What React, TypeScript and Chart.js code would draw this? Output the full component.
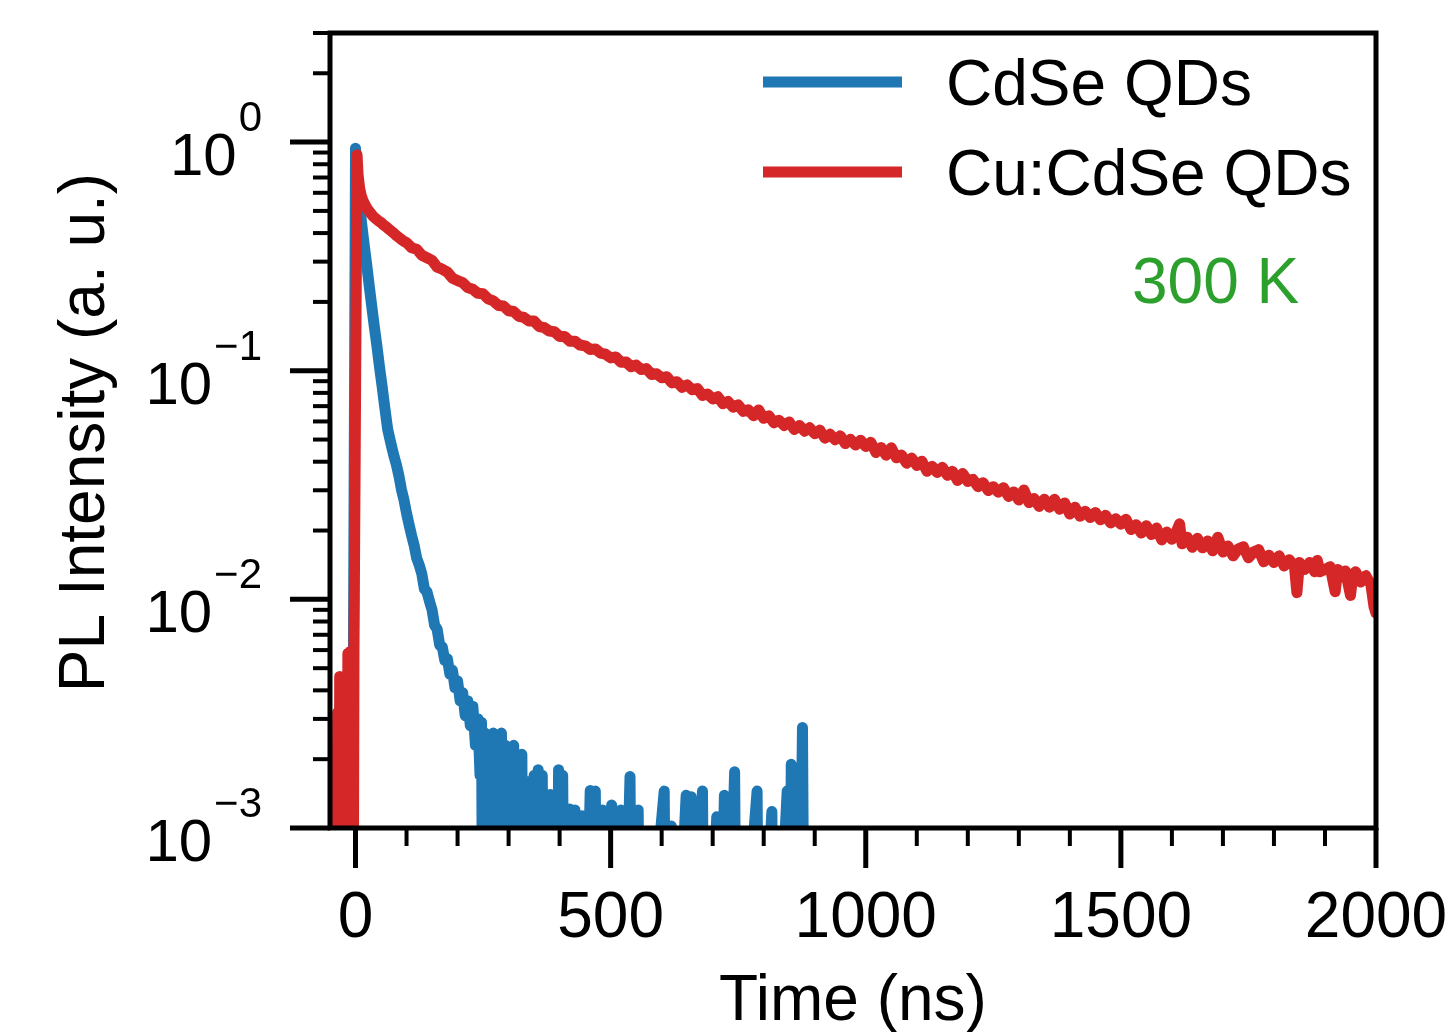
import { useEffect, useRef } from 'react';
import { Chart, registerables } from 'chart.js';

Chart.register(...registerables);

const FONT = '"Liberation Sans", Arial, Helvetica, sans-serif';

// ---- data ----
const blueTimes = [
  -38, -30, -28, -18, -16, -8, -6, -4, 0, 3, 7, 12, 17, 22, 27, 32, 37, 42, 47, 52, 57, 63, 68, 72, 76, 80,
  85, 90, 95, 100, 105, 110, 115, 120, 125, 130, 135, 140, 145, 150, 155, 160, 165, 170, 175, 180, 185, 190,
  195, 200, 205, 210, 215, 220, 225, 230, 235, 240, 244, 247, 250,
  254, 258, 262, 266, 270, 274, 278, 282, 286, 290, 294, 298, 302, 306, 310, 314, 318, 322, 326, 330, 334,
  338, 342, 346, 350, 354, 358, 362, 366, 370, 374, 378, 382, 386, 390, 394, 398, 402, 406, 410,
  420, 424, 430, 434, 444, 448, 460, 464, 470, 474, 484, 488, 502, 506, 520, 524, 538, 542, 554, 558,
  605, 609, 619, 623, 648, 652, 658, 662, 680, 684, 708, 712, 723, 727, 743, 747, 787, 791, 816, 820,
  846, 850, 854, 858, 864, 868, 876, 880,
];
const blueValues = [
  0.0001, 0.003, 0.0001, 0.004, 0.0001, 0.005, 0.0001, 0.0062, 0.94, 0.72, 0.56, 0.44, 0.355, 0.29, 0.234,
  0.19, 0.155, 0.128, 0.104, 0.086, 0.07, 0.0555, 0.0495, 0.0454, 0.0418, 0.0389,
  0.0347, 0.0302, 0.0272, 0.0238, 0.0212, 0.019, 0.0172, 0.0151, 0.0141, 0.0129, 0.0111, 0.0108, 0.0098,
  0.009, 0.0077, 0.0074, 0.0063, 0.0062, 0.0054, 0.0055, 0.0047, 0.0049,
  0.0041, 0.0044, 0.0036, 0.0039, 0.0031, 0.0036, 0.0028, 0.0034, 0.0023, 0.003, 0.0017, 0.0029, 0.0001,
  0.0026, 0.0001, 0.0025, 0.0001, 0.0026, 0.0001, 0.0025, 0.0001, 0.0026, 0.0001, 0.0023, 0.0001, 0.0022,
  0.0001, 0.0023, 0.0001, 0.002, 0.0001, 0.0021, 0.0001, 0.0016,
  0.0001, 0.0016, 0.0001, 0.0017, 0.0001, 0.0018, 0.0001, 0.0017, 0.0001, 0.0014, 0.0001, 0.0014, 0.0001,
  0.0013, 0.0001, 0.0018, 0.0001, 0.0017, 0.0001,
  0.00121, 0.0001, 0.0012, 0.0001, 0.00113, 0.0001, 0.00146, 0.0001, 0.00145, 0.0001, 0.0012, 0.0001,
  0.00126, 0.0001, 0.0012, 0.0001, 0.00168, 0.0001, 0.0012, 0.0001,
  0.00145, 0.0001, 0.00102, 0.0001, 0.00139, 0.0001, 0.00137, 0.0001, 0.00145, 0.0001, 0.00112, 0.0001,
  0.00139, 0.0001, 0.00176, 0.0001, 0.00145, 0.0001, 0.00118, 0.0001,
  0.00145, 0.0001, 0.0019, 0.0001, 0.0015, 0.0001, 0.00275, 0.0001,
];

const redTimes = [
  -38, -35, -33, -31, -29, -27, -25, -23, -21, -19, -17, -15, -13, -11, -9, -7, -5, -3,
  3, 5, 8, 11, 14, 18, 22, 26, 30, 35, 40, 45, 50, 55, 60, 65, 70, 75, 80, 85, 90, 95, 100,
  110, 120, 130, 140, 150, 160, 170, 180, 190, 200, 210, 220, 230, 240, 250, 260, 270, 280, 290, 300,
  310, 320, 330, 340, 350, 360, 370, 380, 390, 400, 410, 420, 430, 440, 450, 460, 470, 480, 490, 500,
  510, 520, 530, 540, 550, 560, 570, 580, 590, 600, 610, 620, 630, 640, 650, 660, 670, 680, 690, 700,
  710, 720, 730, 740, 750, 760, 770, 780, 790, 800, 810, 820, 830, 840, 850, 860, 870, 880, 890, 900,
  910, 920, 930, 940, 950, 960, 970, 980, 990, 1000, 1010, 1020, 1030, 1040, 1050, 1060, 1070, 1080, 1090, 1100,
  1110, 1120, 1130, 1140, 1150, 1160, 1170, 1180, 1190, 1200, 1210, 1220, 1230, 1240, 1250, 1260, 1270, 1280, 1290, 1300,
  1310, 1320, 1330, 1340, 1350, 1360, 1370, 1380, 1390, 1400, 1410, 1420, 1430, 1440, 1450, 1460, 1470, 1480, 1490, 1500,
  1510, 1520, 1530, 1540, 1550, 1560, 1570, 1580, 1590, 1600, 1610, 1615, 1620, 1630, 1640, 1650, 1660, 1670, 1680, 1690, 1700,
  1710, 1720, 1730, 1740, 1750, 1760, 1770, 1780, 1790, 1800, 1810, 1820, 1830, 1840, 1845, 1850, 1860, 1870, 1880, 1885, 1890, 1900,
  1910, 1920, 1925, 1930, 1940, 1950, 1955, 1960, 1970, 1980, 1990, 1996, 2000,
];
const redValues = [
  0.0001, 0.0032, 0.0001, 0.0046, 0.0001, 0.0045, 0.0001, 0.0046, 0.0001, 0.0046, 0.0001, 0.0058, 0.0001,
  0.0059, 0.0001, 0.0058, 0.0001, 0.0059,
  0.88, 0.72, 0.63, 0.585, 0.56, 0.535, 0.515, 0.5, 0.488, 0.472, 0.462, 0.452, 0.445, 0.434, 0.426, 0.417,
  0.408, 0.4, 0.39, 0.383, 0.375, 0.368, 0.363,
  0.345, 0.34, 0.32, 0.312, 0.304, 0.284, 0.278, 0.27, 0.254, 0.248, 0.243, 0.231, 0.227, 0.218, 0.217, 0.206,
  0.202, 0.193, 0.192, 0.183,
  0.1815, 0.173, 0.171, 0.165, 0.1648, 0.156, 0.1543, 0.149, 0.148, 0.141, 0.1412, 0.1345, 0.1347, 0.1295,
  0.1285, 0.1238, 0.1246, 0.1195, 0.1181, 0.1138,
  0.1149, 0.109, 0.1093, 0.1042, 0.1059, 0.1012, 0.1022, 0.0963, 0.097, 0.0931, 0.0942, 0.0885, 0.0895,
  0.0845, 0.0867, 0.0826, 0.0836, 0.078, 0.0791, 0.0753,
  0.077, 0.0718, 0.0734, 0.0693, 0.0709, 0.0664, 0.0675, 0.0635, 0.0674, 0.0619, 0.0635, 0.0592, 0.0607,
  0.0576, 0.0597, 0.0553, 0.0576, 0.0544, 0.0563, 0.053,
  0.055, 0.0507, 0.0527, 0.0499, 0.0519, 0.048, 0.0501, 0.0473, 0.0496, 0.0466, 0.0486, 0.0439, 0.0462,
  0.0427, 0.046, 0.0416, 0.0428, 0.0394, 0.0415, 0.0385,
  0.0402, 0.0363, 0.0382, 0.0359, 0.0378, 0.0349, 0.0363, 0.0331, 0.0355, 0.0328, 0.0335, 0.0311, 0.0324,
  0.0299, 0.0311, 0.0294, 0.0308, 0.0282, 0.0295, 0.0272,
  0.0301, 0.0265, 0.0276, 0.0255, 0.0274, 0.0253, 0.0274, 0.0248, 0.0264, 0.0236, 0.0253, 0.0231, 0.0243,
  0.0228, 0.024, 0.0223, 0.0233, 0.0216, 0.0225, 0.0213,
  0.0224, 0.0202, 0.0212, 0.0195, 0.021, 0.0192, 0.0205, 0.0182, 0.0197, 0.0183, 0.0201, 0.0214, 0.0175,
  0.0187, 0.0169, 0.0185, 0.0168, 0.018, 0.0163, 0.0187, 0.0161,
  0.0171, 0.0155, 0.0166, 0.017, 0.0152, 0.0161, 0.0165, 0.0146, 0.0156, 0.0145, 0.0155, 0.014, 0.0149,
  0.014, 0.0107, 0.0145, 0.0135, 0.0145, 0.0132, 0.0148, 0.0132, 0.0135,
  0.0139, 0.0108, 0.0135, 0.0125, 0.0133, 0.0104, 0.0129, 0.0132, 0.0119, 0.0127, 0.0116, 0.0093, 0.0087,
];

// ---- axes / ticks ----
const xMin = -50;
const xMax = 2000;
const yMin = 0.001;
const yMax = 3;
const xMajorTicks = [0, 500, 1000, 1500, 2000];
const xTickLabels = ['0', '500', '1000', '1500', '2000'];
const xMinorTicks = [100, 200, 300, 400, 600, 700, 800, 900, 1100, 1200, 1300, 1400, 1600, 1700, 1800, 1900];
const yMajorTicks = [1, 0.1, 0.01, 0.001];
const yTickExponents = ['0', '\u22121', '\u22122', '\u22123'];
const yMinorTicks = [
  0.002, 0.003, 0.004, 0.005, 0.006, 0.007, 0.008, 0.009,
  0.02, 0.03, 0.04, 0.05, 0.06, 0.07, 0.08, 0.09,
  0.2, 0.3, 0.4, 0.5, 0.6, 0.7, 0.8, 0.9,
  2, 3,
];
const xTitle = 'Time (ns)';
const yTitle = 'PL Intensity (a. u.)';
const legendLabels = ['CdSe QDs', 'Cu:CdSe QDs'];
const annotation = '300 K';

const BLUE = '#1f77b4';
const RED = '#d62728';
const GREEN = '#2ca02c';
const LINE_W = 11;

const axesPlugin = {
  id: 'mplAxes',
  afterDraw(chart: any) {
    const { ctx, chartArea: a, scales } = chart;
    const x = scales.x;
    const y = scales.y;
    ctx.save();
    ctx.strokeStyle = '#000';
    ctx.fillStyle = '#000';
    ctx.lineCap = 'butt';

    const seg = (x1: number, y1: number, x2: number, y2: number) => {
      ctx.beginPath();
      ctx.moveTo(x1, y1);
      ctx.lineTo(x2, y2);
      ctx.stroke();
    };

    // y ticks
    ctx.lineWidth = 5;
    yMajorTicks.forEach((v) => {
      const py = y.getPixelForValue(v);
      seg(a.left - 40, py, a.left, py);
    });
    ctx.lineWidth = 4;
    yMinorTicks.forEach((v) => {
      const py = y.getPixelForValue(v);
      seg(a.left - 17, py, a.left, py);
    });
    // x ticks
    ctx.lineWidth = 5;
    xMajorTicks.forEach((v) => {
      const px = x.getPixelForValue(v);
      seg(px, a.bottom, px, a.bottom + 40);
    });
    ctx.lineWidth = 4;
    xMinorTicks.forEach((v) => {
      const px = x.getPixelForValue(v);
      seg(px, a.bottom, px, a.bottom + 18);
    });

    // frame
    ctx.lineWidth = 5;
    ctx.strokeRect(a.left, a.top, a.right - a.left, a.bottom - a.top);

    // x tick labels
    ctx.font = `64px ${FONT}`;
    ctx.textAlign = 'center';
    ctx.textBaseline = 'alphabetic';
    xMajorTicks.forEach((v, i) => {
      const px = x.getPixelForValue(v);
      ctx.fillText(xTickLabels[i], px, a.bottom + 109);
    });

    // y tick labels 10^n
    const labelRight = a.left - 68;
    yMajorTicks.forEach((v, i) => {
      const py = y.getPixelForValue(v);
      ctx.font = `42px ${FONT}`;
      ctx.textAlign = 'right';
      const supW = ctx.measureText(yTickExponents[i]).width;
      ctx.fillText(yTickExponents[i], labelRight, py - 11);
      ctx.font = `60px ${FONT}`;
      ctx.fillText('10', labelRight - supW - 2, py + 33);
    });

    // axis titles
    ctx.font = `64px ${FONT}`;
    ctx.textAlign = 'center';
    ctx.fillText(xTitle, (a.left + a.right) / 2, a.bottom + 192);
    ctx.save();
    ctx.translate(104, (a.top + a.bottom) / 2 + 2);
    ctx.rotate(-Math.PI / 2);
    ctx.fillText(yTitle, 0, 0);
    ctx.restore();

    // legend
    ctx.lineWidth = LINE_W;
    ctx.strokeStyle = BLUE;
    seg(763, 82, 902, 82);
    ctx.strokeStyle = RED;
    seg(763, 172, 902, 172);
    ctx.fillStyle = '#000';
    ctx.textAlign = 'left';
    ctx.font = `64px ${FONT}`;
    ctx.fillText(legendLabels[0], 946, 105);
    ctx.fillText(legendLabels[1], 946, 195);

    // annotation
    ctx.fillStyle = GREEN;
    ctx.fillText(annotation, 1132, 303);
    ctx.restore();
  },
};

export default function App() {
  const canvasRef = useRef<HTMLCanvasElement | null>(null);

  useEffect(() => {
    const canvas = canvasRef.current;
    if (!canvas) return;
    const blue = blueTimes.map((t, i) => ({ x: t, y: blueValues[i] }));
    const red = redTimes.map((t, i) => ({ x: t, y: redValues[i] }));
    const chart = new Chart(canvas, {
      type: 'line',
      data: {
        datasets: [
          {
            label: legendLabels[0],
            data: blue,
            borderColor: BLUE,
            borderWidth: LINE_W,
            pointRadius: 0,
            tension: 0,
            borderJoinStyle: 'round',
            borderCapStyle: 'round',
            order: 2,
          },
          {
            label: legendLabels[1],
            data: red,
            borderColor: RED,
            borderWidth: LINE_W,
            pointRadius: 0,
            tension: 0,
            borderJoinStyle: 'round',
            borderCapStyle: 'round',
            order: 1,
          },
        ],
      },
      options: {
        animation: false,
        responsive: false,
        events: [],
        layout: { padding: { left: 330, top: 33, right: 69, bottom: 204 } },
        scales: {
          x: { type: 'linear', min: xMin, max: xMax, display: false },
          y: { type: 'logarithmic', min: yMin, max: yMax, display: false },
        },
        plugins: { legend: { display: false }, tooltip: { enabled: false } },
      },
      plugins: [axesPlugin],
    } as any);
    return () => chart.destroy();
  }, []);

  return (
    <canvas
      ref={canvasRef}
      width={1445}
      height={1032}
      style={{ position: 'absolute', left: 0, top: 0, display: 'block', background: '#fff' }}
    />
  );
}
